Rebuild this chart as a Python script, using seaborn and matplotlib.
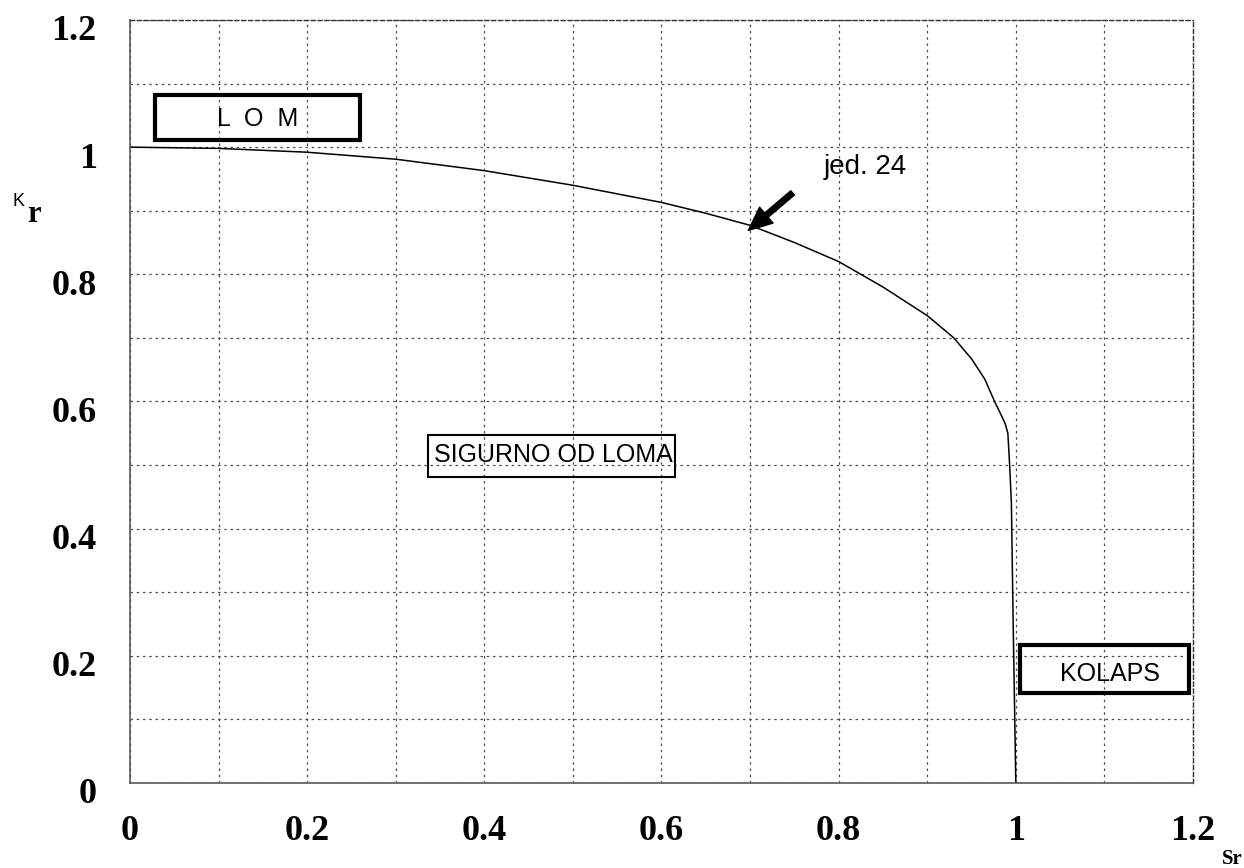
import matplotlib
matplotlib.use("Agg")
import matplotlib.pyplot as plt
import matplotlib.transforms as mtransforms
from matplotlib.patches import Rectangle
from matplotlib.ticker import MultipleLocator
import pandas as pd
import seaborn as sns

# ------------------------- Data -------------------------
sr = [0.0, 0.1, 0.2, 0.3, 0.4, 0.5, 0.6, 0.65, 0.7, 0.75, 0.8, 0.85, 0.9,
      0.93, 0.95, 0.965, 0.976, 0.983, 0.988, 0.991, 0.993, 0.995, 0.997, 1.0]
kr = [1.0, 0.998, 0.992, 0.981, 0.963, 0.94, 0.913, 0.896, 0.877, 0.85, 0.82,
      0.78, 0.735, 0.70, 0.667, 0.635, 0.60, 0.58, 0.565, 0.55, 0.50, 0.44,
      0.25, 0.0]
tick_values = [0, 0.2, 0.4, 0.6, 0.8, 1.0, 1.2]
tick_labels = ["0", "0.2", "0.4", "0.6", "0.8", "1", "1.2"]

df = pd.DataFrame({"sr": sr, "kr": kr})

# ------------------------- Style -------------------------
sns.set_theme(style="white")
plt.rcParams["font.family"] = ["Liberation Sans", "DejaVu Sans"]

fig = plt.figure(figsize=(12.44, 8.68), dpi=100)
ax = fig.add_axes([0.1045, 0.098, 0.8545, 0.879])

sns.lineplot(data=df, x="sr", y="kr", color="black", linewidth=1.1,
             sort=False, ax=ax)

ax.set_xlim(0, 1.2)
ax.set_ylim(0, 1.2)
ax.set_xlabel("")
ax.set_ylabel("")

ax.set_xticks(tick_values)
ax.set_xticklabels(tick_labels)
ax.set_yticks(tick_values)
ax.set_yticklabels(tick_labels)
ax.xaxis.set_minor_locator(MultipleLocator(0.1))
ax.yaxis.set_minor_locator(MultipleLocator(0.1))
ax.tick_params(which="both", length=0)
ax.tick_params(axis="x", pad=23)
ax.tick_params(axis="y", pad=24)
for lab in ax.get_xticklabels() + ax.get_yticklabels():
    lab.set_fontfamily("Liberation Serif")
    lab.set_fontweight("bold")
    lab.set_fontsize(26)
    lab.set_color("black")
off = mtransforms.ScaledTranslation(0, -8 / 100, fig.dpi_scale_trans)
for lab in ax.get_yticklabels():
    lab.set_transform(lab.get_transform() + off)

ax.grid(True, which="both", color="0.3", linestyle=(0, (2, 3)), linewidth=0.9)

for side in ["left", "bottom"]:
    ax.spines[side].set_color("0.35")
    ax.spines[side].set_linewidth(1.2)
for side in ["top", "right"]:
    ax.spines[side].set_color("0.2")
    ax.spines[side].set_linewidth(1.0)
    ax.spines[side].set_linestyle((0, (3, 2)))

# ------------------------- Region boxes -------------------------
ax.add_patch(Rectangle((0.028, 1.011), 0.232, 0.071, fill=False,
                       edgecolor="black", linewidth=3, zorder=5))
ax.text(0.144, 1.045, "L  O  M", ha="center", va="center", fontsize=18,
        color="black", zorder=6)

ax.add_patch(Rectangle((0.336, 0.481), 0.279, 0.066, fill=False,
                       edgecolor="black", linewidth=1.5, zorder=5))
ax.text(0.478, 0.516, "SIGURNO OD LOMA", ha="center", va="center",
        fontsize=18, color="black", zorder=6)

ax.add_patch(Rectangle((1.0045, 0.1415), 0.1915, 0.0755, fill=False,
                       edgecolor="black", linewidth=3, zorder=5))
ax.text(1.106, 0.171, "KOLAPS", ha="center", va="center", fontsize=18,
        color="black", zorder=6)

# ------------------------- Arrow to curve -------------------------
ax.annotate("", xy=(0.698, 0.869), xytext=(0.748, 0.928),
            arrowprops=dict(facecolor="black", edgecolor="black", width=4,
                            headwidth=15, headlength=17, shrink=0))
ax.text(0.83, 0.968, "jed. 24", ha="center", va="center", fontsize=20,
        color="black")

# ------------------------- Axis names -------------------------
fig.text(18 / 1244, 1 - 201 / 868, "K", ha="center", va="center",
         fontsize=13, color="black")
fig.text(34 / 1244, 1 - 214 / 868, "r", ha="center", va="center",
         fontfamily="Liberation Serif", fontweight="bold", fontsize=22,
         color="black")
fig.text(1232 / 1244, 1 - 859 / 868, "Sr", ha="center", va="center",
         fontfamily="Liberation Serif", fontweight="bold", fontsize=15,
         color="black")

fig.savefig("out.png", dpi=100, facecolor="white")
